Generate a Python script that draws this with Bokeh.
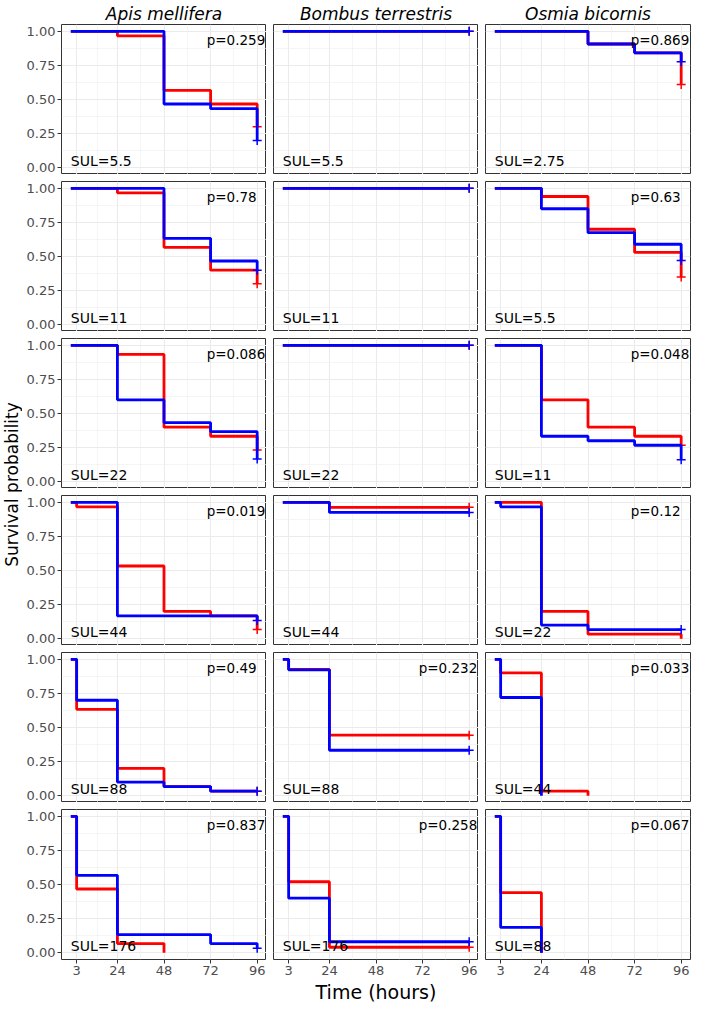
import math
from bokeh.plotting import figure
from bokeh.layouts import gridplot, row
from bokeh.models import FixedTicker, NumeralTickFormatter, Range1d
from bokeh.embed import file_html
from bokeh.resources import INLINE
from bokeh.core.properties import value

FONT = "DejaVu Sans"
RED = "#FF0000"
BLUE = "#0000FF"

species = ["Apis mellifera", "Bombus terrestris", "Osmia bicornis"]
times = [0, 3, 24, 48, 72, 96]
x_ticks = [3, 24, 48, 72, 96]
x_minor = [13.5, 36, 60, 84]
y_ticks = [0, 0.25, 0.5, 0.75, 1.0]
y_minor = [0.125, 0.375, 0.625, 0.875]

sul_apis = ["5.5", "11", "22", "44", "88", "176"]
sul_bombus = ["5.5", "11", "22", "44", "88", "176"]
sul_osmia = ["2.75", "5.5", "11", "22", "44", "88"]

p_apis = ["0.259", "0.78", "0.086", "0.019", "0.49", "0.837"]
p_bombus = [None, None, None, None, "0.232", "0.258"]
p_osmia = ["0.869", "0.63", "0.048", "0.12", "0.033", "0.067"]

# survival at times 0, 3, 24, 48, 72, 96 (0 = all dead, curve stops)
apis_red = [
    [1, 1, 0.967, 0.567, 0.467, 0.300],
    [1, 1, 0.967, 0.567, 0.400, 0.300],
    [1, 1, 0.933, 0.400, 0.333, 0.233],
    [1, 0.967, 0.533, 0.200, 0.167, 0.067],
    [1, 0.633, 0.200, 0.067, 0.033, 0.033],
    [1, 0.467, 0.067, 0, 0, 0],
]
apis_blue = [
    [1, 1, 1, 0.467, 0.433, 0.200],
    [1, 1, 1, 0.633, 0.467, 0.400],
    [1, 1, 0.600, 0.433, 0.367, 0.167],
    [1, 1, 0.167, 0.167, 0.167, 0.133],
    [1, 0.700, 0.100, 0.067, 0.033, 0.033],
    [1, 0.567, 0.133, 0.133, 0.067, 0.033],
]
bombus_red = [
    [1, 1, 1, 1, 1, 1],
    [1, 1, 1, 1, 1, 1],
    [1, 1, 1, 1, 1, 1],
    [1, 1, 0.963, 0.963, 0.963, 0.963],
    [1, 0.926, 0.444, 0.444, 0.444, 0.444],
    [1, 0.520, 0.040, 0.040, 0.040, 0.040],
]
bombus_blue = [
    [1, 1, 1, 1, 1, 1],
    [1, 1, 1, 1, 1, 1],
    [1, 1, 1, 1, 1, 1],
    [1, 1, 0.926, 0.926, 0.926, 0.926],
    [1, 0.923, 0.333, 0.333, 0.333, 0.333],
    [1, 0.400, 0.080, 0.080, 0.080, 0.080],
]
osmia_red = [
    [1, 1, 1, 0.907, 0.842, 0.610],
    [1, 1, 0.940, 0.700, 0.530, 0.350],
    [1, 1, 0.600, 0.400, 0.333, 0.267],
    [1, 1, 0.200, 0.033, 0.033, 0],
    [1, 0.900, 0.033, 0, 0, 0],
    [1, 0.440, 0, 0, 0, 0],
]
osmia_blue = [
    [1, 1, 1, 0.907, 0.842, 0.777],
    [1, 1, 0.850, 0.675, 0.590, 0.470],
    [1, 1, 0.333, 0.300, 0.267, 0.160],
    [1, 0.967, 0.100, 0.067, 0.067, 0.067],
    [1, 0.720, 0, 0, 0, 0],
    [1, 0.185, 0, 0, 0, 0],
]

red_sets = [apis_red, bombus_red, osmia_red]
blue_sets = [apis_blue, bombus_blue, osmia_blue]
sul_sets = [sul_apis, sul_bombus, sul_osmia]
p_sets = [p_apis, p_bombus, p_osmia]

FW, FH = 205, 150
NROW, NCOL = 6, 3


def truncate(vals):
    xs, ys = [], []
    for t, v in zip(times, vals):
        xs.append(t)
        ys.append(v)
        if v == 0:
            break
    return xs, ys


def style_axis(ax):
    ax.major_label_text_font = FONT
    ax.major_label_text_font_size = "13px"
    ax.major_label_text_color = "#4D4D4D"
    ax.major_tick_out = 4
    ax.major_tick_in = 0
    ax.major_tick_line_color = "#333333"
    ax.major_tick_line_width = 1
    ax.minor_tick_line_color = None
    ax.axis_line_color = None
    ax.major_label_standoff = 2


figs = []
for r in range(NROW):
    row_figs = []
    for c in range(NCOL):
        bottom = r == NROW - 1
        left = c == 0
        p = figure(
            frame_width=FW, frame_height=FH,
            x_range=Range1d(-4.8, 100.8), y_range=Range1d(-0.05, 1.05),
            x_axis_location="below" if bottom else None,
            y_axis_location="left" if left else None,
            toolbar_location=None, output_backend="svg",
            title=species[c] if r == 0 else None,
            min_border_left=39 if left else 7,
            min_border_right=1 if c == NCOL - 1 else 0,
            min_border_top=0 if r == 0 else 7,
            min_border_bottom=0,
            background_fill_color="white", border_fill_color="white",
        )
        if r == 0:
            p.title.align = "center"
            p.title.text_font = FONT
            p.title.text_font_style = "italic"
            p.title.text_font_size = "17px"
            p.title.text_color = "black"
            p.title.standoff = 2
        p.outline_line_color = "#333333"
        p.outline_line_width = 1
        p.xgrid.ticker = FixedTicker(ticks=x_ticks, minor_ticks=x_minor)
        p.ygrid.ticker = FixedTicker(ticks=y_ticks, minor_ticks=y_minor)
        for g in (p.xgrid, p.ygrid):
            g.grid_line_color = "#EBEBEB"
            g.grid_line_width = 1.1
            g.minor_grid_line_color = "#EEEEEE"
            g.minor_grid_line_width = 0.6
        if bottom:
            p.xaxis.ticker = FixedTicker(ticks=x_ticks)
            style_axis(p.xaxis[0])
            if c == 1:
                p.xaxis.axis_label = "Time (hours)"
                p.xaxis.axis_label_text_font = FONT
                p.xaxis.axis_label_text_font_size = "19px"
                p.xaxis.axis_label_text_font_style = "normal"
                p.xaxis.axis_label_text_color = "black"
                p.xaxis.axis_label_standoff = 3
        if left:
            p.yaxis.ticker = FixedTicker(ticks=y_ticks)
            p.yaxis.formatter = NumeralTickFormatter(format="0.00")
            style_axis(p.yaxis[0])

        for vals, col in ((red_sets[c][r], RED), (blue_sets[c][r], BLUE)):
            xs, ys = truncate(vals)
            p.step(xs, ys, mode="after", line_color=col, line_width=2.8)
            if ys[-1] > 0 and xs[-1] == times[-1]:
                p.scatter([xs[-1]], [ys[-1]], marker="cross", size=9,
                          line_color=col, line_width=1.5)

        p.text(x=[0], y=[0.05], text=["SUL=" + sul_sets[c][r]],
               text_font=value(FONT), text_font_size="14px",
               text_align="left", text_baseline="middle", text_color="black")
        if p_sets[c][r] is not None:
            p.text(x=[70], y=[0.935], text=["p=" + p_sets[c][r]],
                   text_font=value(FONT), text_font_size="13.5px",
                   text_align="left", text_baseline="middle", text_color="black")
        row_figs.append(p)
    figs.append(row_figs)

grid = gridplot(figs, toolbar_location=None)

H = 990
YW = 22
yfig = figure(width=YW, height=H, x_range=Range1d(0, YW), y_range=Range1d(0, H),
              min_border=0, toolbar_location=None, output_backend="svg",
              x_axis_location=None, y_axis_location=None,
              outline_line_color=None)
yfig.grid.visible = False
yfig.text(x=[11], y=[H - 484], text=["Survival probability"], angle=math.pi / 2,
          text_font=value(FONT), text_font_size="17px", text_align="center",
          text_baseline="middle", text_color="black")

layout = row(yfig, grid)
open("out.html", "w").write(file_html(layout, INLINE))
